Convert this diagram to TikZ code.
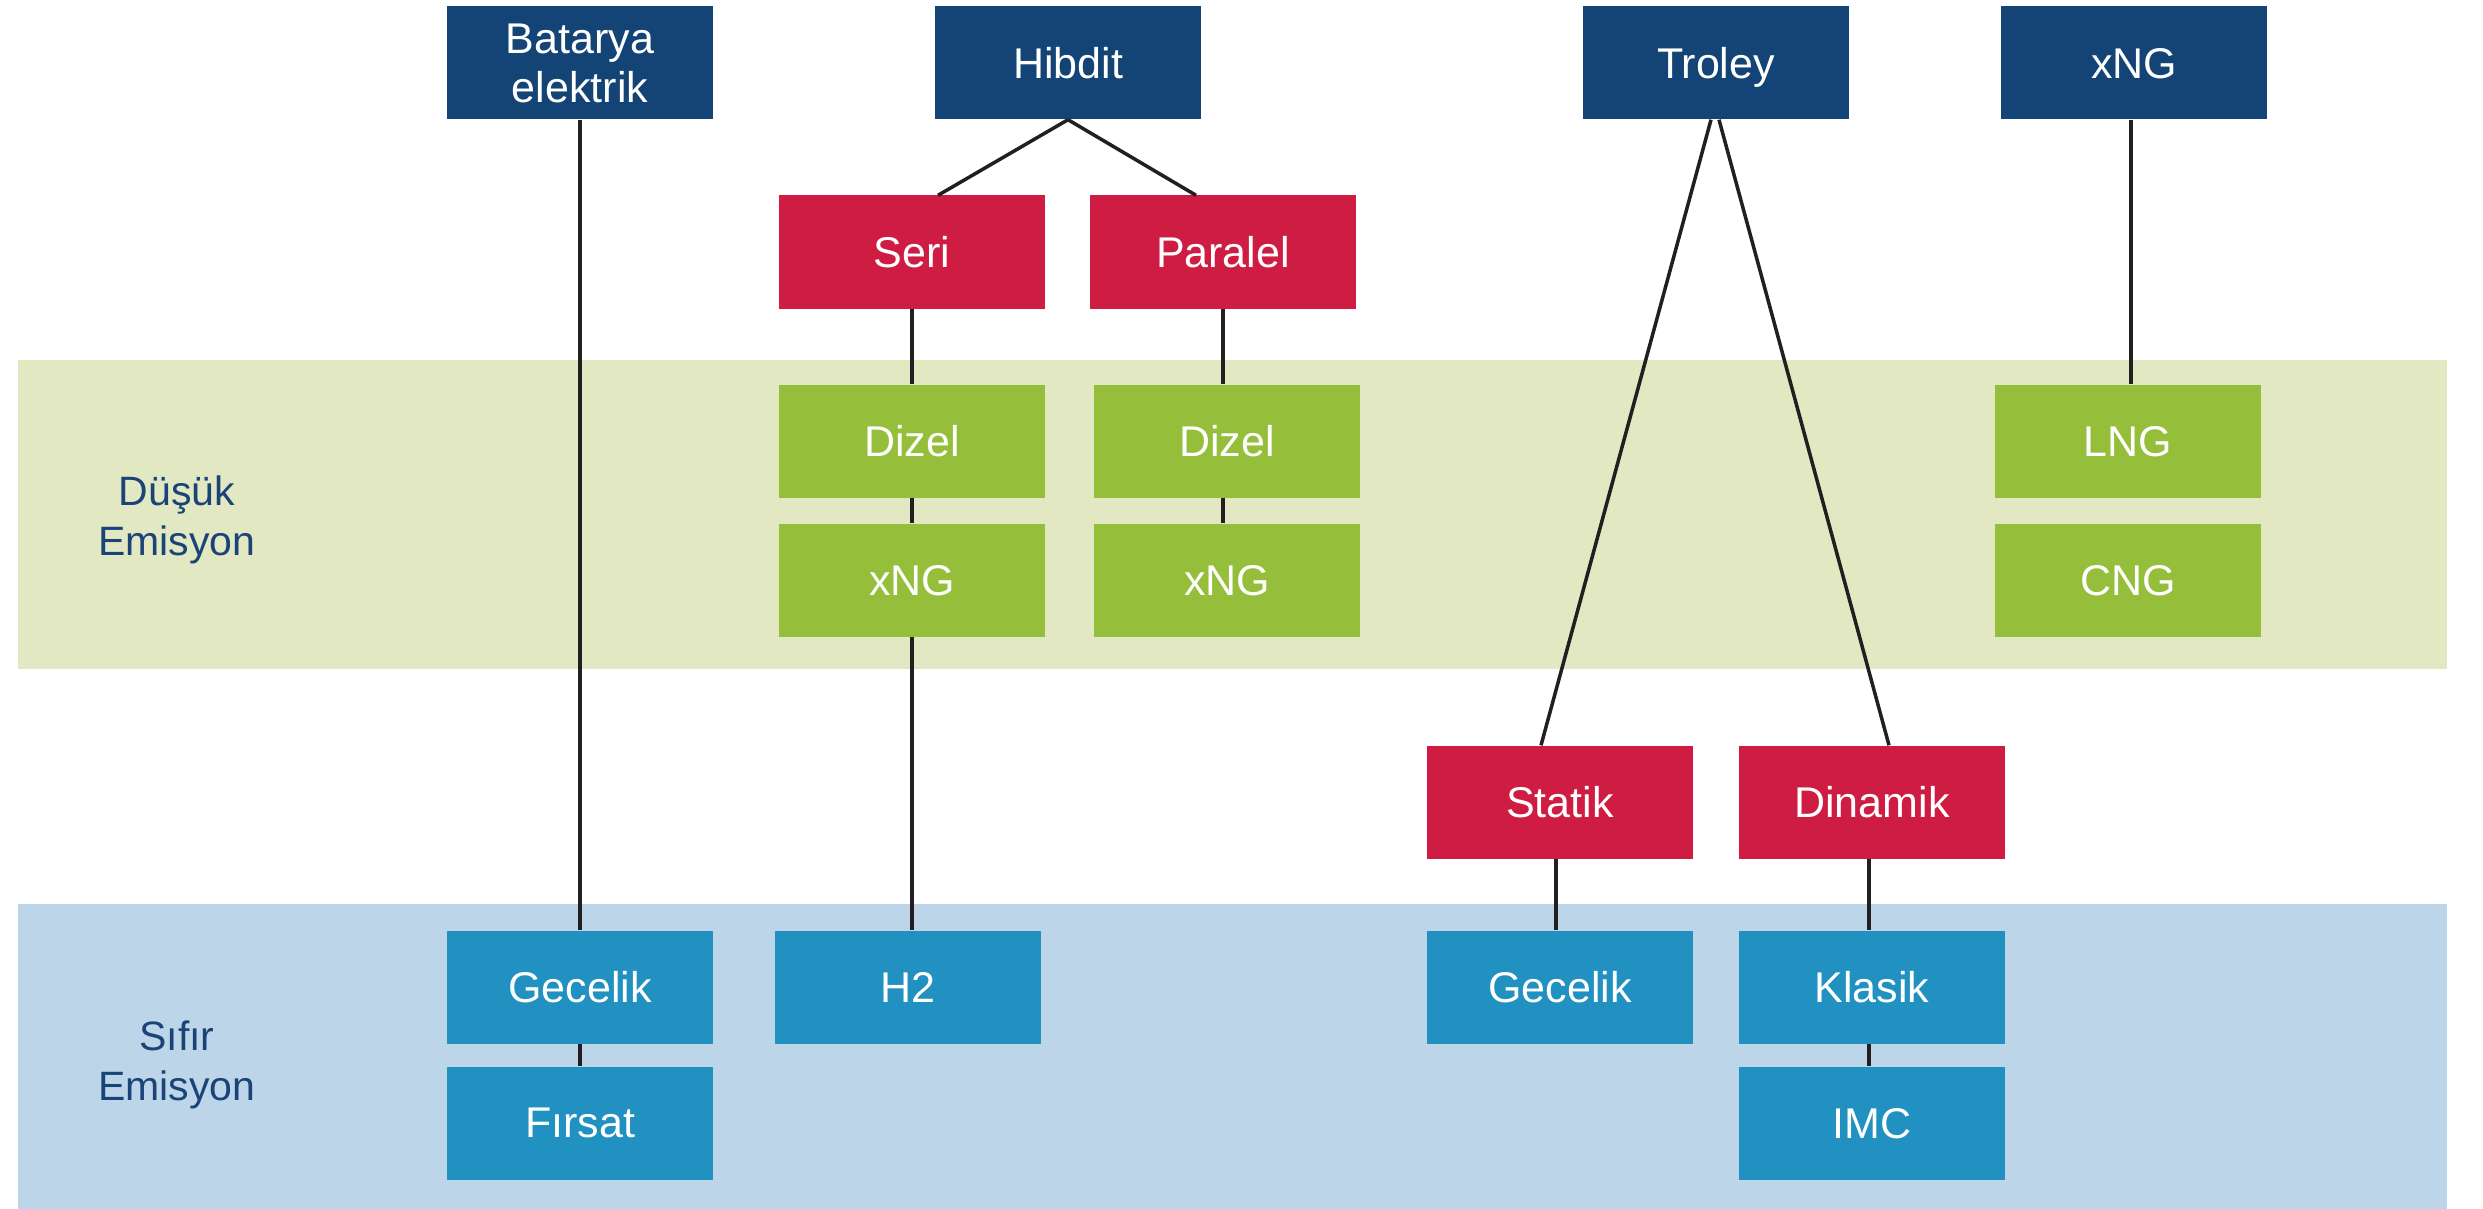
\documentclass[tikz,border=0pt]{standalone}
\usepackage{fontspec}
\setmainfont{Liberation Sans}
\usetikzlibrary{calc}
\definecolor{navy}{HTML}{134475}
\definecolor{crim}{HTML}{CF1C43}
\definecolor{lime}{HTML}{95BF3B}
\definecolor{sky}{HTML}{2091C1}
\definecolor{bandg}{HTML}{E1E8C2}
\definecolor{bandb}{HTML}{BDD5E8}
\definecolor{lbl}{HTML}{1A4378}
\definecolor{wire}{HTML}{231F20}
\tikzset{
  box/.style={minimum width=266pt, minimum height=113pt, inner sep=0pt, text=white,
    align=center, font=\fontsize{43}{49}\selectfont, text depth=0pt},
  topbox/.style={box, fill=navy},
  subbox/.style={box, fill=crim},
  lowbox/.style={box, fill=lime},
  zerobox/.style={box, fill=sky},
  bandlabel/.style={text=lbl, align=center, font=\fontsize{41}{50}\selectfont},
  link/.style={draw=wire, line width=3.5pt}
}
\begin{document}
\begin{tikzpicture}[x=1pt,y=-1pt]
\useasboundingbox (0,0) rectangle (2483,1209);
% bands
\fill[bandg] (18,360) rectangle (2447,669);
\fill[bandb] (18,904) rectangle (2447,1209);
\node[bandlabel] (lowlbl) at (177,520) {Düşük\\Emisyon};
\node[bandlabel] (zerolbl) at (177,1065) {Sıfır\\Emisyon};
% top row
\node[topbox, text depth=] (bat) at (580,63) {Batarya\\elektrik};
\node[topbox] (hib) at (1068,63) {Hibdit};
\node[topbox] (tro) at (1716,63) {Troley};
\node[topbox] (xng) at (2134,63) {xNG};
% second row
\node[subbox] (seri) at (912,252) {Seri};
\node[subbox] (par) at (1223,252) {Paralel};
% low emission
\node[lowbox] (diz1) at (912,441) {Dizel};
\node[lowbox] (diz2) at (1227,441) {Dizel};
\node[lowbox] (lng) at (2128,441) {LNG};
\node[lowbox] (xng1) at (912,580) {xNG};
\node[lowbox] (xng2) at (1227,580) {xNG};
\node[lowbox] (cng) at (2128,580) {CNG};
% troley sub
\node[subbox] (sta) at (1560,802) {Statik};
\node[subbox] (din) at (1872,802) {Dinamik};
% zero emission
\node[zerobox] (gec1) at (580,987) {Gecelik};
\node[zerobox] (h2) at (908,987) {H2};
\node[zerobox] (gec2) at (1560,987) {Gecelik};
\node[zerobox] (kla) at (1872,987) {Klasik};
\node[zerobox] (fir) at (580,1123) {Fırsat};
\node[zerobox] (imc) at (1872,1123) {IMC};
% connectors
\coordinate (xngfoot) at (2131,120);
\draw[link] (bat.south) -- (gec1.north);
\draw[link] (gec1.south) -- (fir.north);
\draw[link] (hib.south) -- ($(seri.north)+(26,0)$);
\draw[link] (hib.south) -- ($(par.north)+(-27,0)$);
\draw[link] (seri.south) -- (seri.south |- diz1.north);
\draw[link] (diz1.south) -- (xng1.north);
\draw[link] (xng1.south) -- (xng1.south |- h2.north);
\draw[link] (par.south) -- (par.south |- diz2.north);
\draw[link] (par.south |- diz2.south) -- (par.south |- xng2.north);
\draw[link] ($(tro.south)+(-5,0)$) -- ($(sta.north)+(-19,0)$);
\draw[link] ($(tro.south)+(3,0)$) -- ($(din.north)+(17,0)$);
\draw[link] ($(sta.south)+(-4,0)$) -- ($(gec2.north)+(-4,0)$);
\draw[link] ($(din.south)+(-3,0)$) -- ($(kla.north)+(-3,0)$);
\draw[link] ($(kla.south)+(-3,0)$) -- ($(imc.north)+(-3,0)$);
\draw[link] (xngfoot) -- (xngfoot |- lng.north);
\end{tikzpicture}
\end{document}
